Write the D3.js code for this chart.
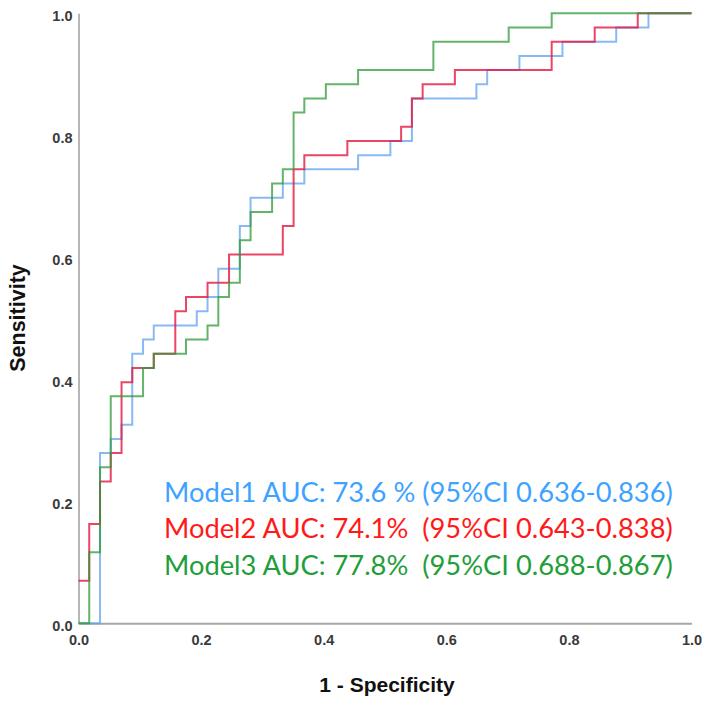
<!DOCTYPE html>
<html><head><meta charset="utf-8">
<script src="https://cdn.jsdelivr.net/npm/d3@7"></script>
<style>html,body{margin:0;padding:0;background:#fff;} svg{display:block}</style>
</head><body>
<svg id="c" width="709" height="702"></svg>
<script>
// ---- data ----
const tickValues = [0, 0.2, 0.4, 0.6, 0.8, 1.0];
const tickLabels = ["0.0", "0.2", "0.4", "0.6", "0.8", "1.0"];

// ROC corner points (1 - specificity, sensitivity); step drawn horizontally then vertically
const model1Fpr = [0, 0.0351, 0.0526, 0.0702, 0.0877, 0.1053, 0.1228, 0.1930, 0.2105, 0.2281, 0.2632, 0.2807, 0.3333, 0.3684, 0.4561, 0.5088, 0.5439, 0.6491, 0.6667, 0.7193, 0.7895, 0.8772, 0.9298, 1.0];
const model1Tpr = [0, 0.2791, 0.3023, 0.3256, 0.4419, 0.4651, 0.4884, 0.5116, 0.5349, 0.5814, 0.6512, 0.6977, 0.7209, 0.7442, 0.7674, 0.7907, 0.8605, 0.8837, 0.9070, 0.9302, 0.9535, 0.9767, 1.0, 1.0];

const model2Fpr = [0, 0.0175, 0.0351, 0.0526, 0.0702, 0.0877, 0.1228, 0.1579, 0.1754, 0.2105, 0.2456, 0.3333, 0.3509, 0.3684, 0.4386, 0.5263, 0.5439, 0.5614, 0.6140, 0.7719, 0.8421, 0.9123, 1.0];
const model2Tpr = [0.0698, 0.1628, 0.2326, 0.2791, 0.3953, 0.4186, 0.4419, 0.5116, 0.5349, 0.5581, 0.6047, 0.6512, 0.7442, 0.7674, 0.7907, 0.8140, 0.8605, 0.8837, 0.9070, 0.9535, 0.9767, 1.0, 1.0];

const model3Fpr = [0, 0.0175, 0.0351, 0.0526, 0.1053, 0.1228, 0.1754, 0.2105, 0.2281, 0.2456, 0.2632, 0.2807, 0.3158, 0.3333, 0.3509, 0.3684, 0.4035, 0.4561, 0.5789, 0.7018, 0.7719, 1.0];
const model3Tpr = [0, 0.1163, 0.2558, 0.3721, 0.4186, 0.4419, 0.4651, 0.4884, 0.5349, 0.5581, 0.6279, 0.6744, 0.7209, 0.7442, 0.8372, 0.8605, 0.8837, 0.9070, 0.9535, 0.9767, 1.0, 1.0];

const seriesNames = ["Model1", "Model2", "Model3"];
const legendLabels = [
  "Model1 AUC: 73.6 % (95%CI 0.636-0.836)",
  "Model2 AUC: 74.1%  (95%CI 0.643-0.838)",
  "Model3 AUC: 77.8%  (95%CI 0.688-0.867)"
];
const xTitle = "1 - Specificity";
const yTitle = "Sensitivity";

// ---- styles ----
const lineColors = ["#5fa3f2", "#e5163f", "#2f9a3a"];
const lineOpacity = [0.75, 0.8, 0.75];
const textColors = ["#3ea2ff", "#ff1a1a", "#1f9e3a"];

const svg = d3.select("#c");
const x = d3.scaleLinear().domain([0, 1]).range([78.5, 691.5]);
const y = d3.scaleLinear().domain([0, 1]).range([623.3, 13.3]);

// axes
const yAxis = d3.axisLeft(y).tickValues(tickValues).tickFormat((d, i) => tickLabels[i]).tickSize(0).tickSizeOuter(0).tickPadding(6);
const xAxis = d3.axisBottom(x).tickValues(tickValues).tickFormat((d, i) => tickLabels[i]).tickSize(0).tickSizeOuter(0).tickPadding(11.5);

const gy = svg.append("g").attr("transform", "translate(78.5,0)").call(yAxis);
const gx = svg.append("g").attr("transform", "translate(0,623.3)").call(xAxis);
gy.select(".domain").attr("stroke", "#8f8f8f").attr("stroke-width", 1.3);
gx.select(".domain").attr("stroke", "#a6a6a6").attr("stroke-width", 2);
[gx, gy].forEach(g => g.selectAll("text")
  .attr("font-family", "'Liberation Sans', Arial, sans-serif")
  .attr("font-size", 14.5).attr("font-weight", "bold").attr("fill", "#3a3a3a"));
gy.selectAll("text").attr("dy", "0.5em");

// curves
const fprs = [model1Fpr, model2Fpr, model3Fpr];
const tprs = [model1Tpr, model2Tpr, model3Tpr];
const line = d3.line().x(d => x(d[0])).y(d => y(d[1])).curve(d3.curveStepAfter);
seriesNames.forEach((name, i) => {
  const pts = fprs[i].map((f, k) => [f, tprs[i][k]]);
  svg.append("path").datum(pts)
    .attr("d", line)
    .attr("fill", "none")
    .attr("stroke", lineColors[i])
    .attr("stroke-opacity", lineOpacity[i])
    .attr("stroke-width", 2);
});

// legend text
const legendG = svg.append("g");
const baselines = [501.5, 538, 574.5];
const texts = legendLabels.map((t, i) => legendG.append("text")
  .attr("x", 164).attr("y", baselines[i])
  .attr("font-family", "Lato, 'Open Sans', sans-serif")
  .attr("font-size", 26)
  .attr("fill", textColors[i])
  .style("white-space", "pre")
  .attr("xml:space", "preserve")
  .text(t));
const w0 = texts[0].node().getComputedTextLength();
const fs = 26 * 509 / w0;
texts.forEach(t => t.attr("font-size", fs));

// axis titles
svg.append("text")
  .attr("x", 387).attr("y", 692)
  .attr("text-anchor", "middle")
  .attr("font-family", "'Liberation Sans', Arial, sans-serif")
  .attr("font-size", 21).attr("font-weight", "bold").attr("fill", "#111")
  .text(xTitle);
svg.append("text")
  .attr("transform", "translate(25,318) rotate(-90)")
  .attr("text-anchor", "middle")
  .attr("font-family", "'Liberation Sans', Arial, sans-serif")
  .attr("font-size", 21.5).attr("font-weight", "bold").attr("fill", "#111")
  .text(yTitle);
</script>
</body></html>
